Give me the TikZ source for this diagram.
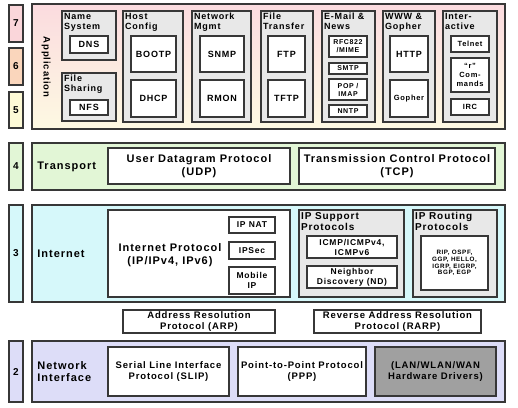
\documentclass[tikz,border=0pt]{standalone}
\usepackage{fontspec}
\setmainfont{Liberation Sans}[LetterSpace=9]
\usepackage{tikz}
\usetikzlibrary{positioning}
\definecolor{linec}{RGB}{55,55,55}
\definecolor{pinkseven}{RGB}{250,214,218}
\definecolor{peachsix}{RGB}{250,214,188}
\definecolor{yelfive}{RGB}{253,250,214}
\definecolor{apptop}{RGB}{251,219,223}
\definecolor{appbot}{RGB}{253,249,226}
\definecolor{trgreen}{RGB}{226,246,214}
\definecolor{incyan}{RGB}{214,248,250}
\definecolor{nilav}{RGB}{221,221,248}
\definecolor{grpgray}{RGB}{232,232,232}
\definecolor{drvgray}{RGB}{160,160,160}
\newcommand{\fsz}[2]{\fontsize{#1}{#2}\selectfont}
\tikzset{
  numbox/.style={draw=linec, line width=1.6pt, minimum width=14, inner sep=0pt, font=\fsz{10}{11}\bfseries},
  layer/.style={draw=linec, line width=1.6pt, inner sep=0pt},
  grp/.style={draw=linec, line width=1.2pt, fill=grpgray, inner sep=0pt},
  pbox/.style={draw=linec, line width=1.2pt, fill=white, align=center, inner sep=1pt, font=\fsz{9}{10}\bfseries},
  gttl/.style={anchor=north west, align=left, inner sep=2.5pt, font=\fsz{9}{10}\bfseries},
  llab/.style={align=left, inner sep=0pt, font=\fsz{11}{12.5}\bfseries},
  bigtxt/.style={font=\fsz{11}{12.5}\bfseries},
  midtxt/.style={font=\fsz{9.5}{10.5}\bfseries},
  smtxt/.style={font=\fsz{7}{8}\bfseries},
}
\begin{document}
\begin{tikzpicture}[x=1pt, y=-1pt]
\useasboundingbox (0,0) rectangle (518,407);
% layer numbers
\node[numbox, fill=pinkseven, minimum height=37] (n7) at (16,23.5) {7};
\node[numbox, fill=peachsix, minimum height=37] (n6) at (16,66.5) {6};
\node[numbox, fill=yelfive, minimum height=36] (n5) at (16,110) {5};
\node[numbox, fill=trgreen, minimum height=47] (n4) at (16,166.5) {4};
\node[numbox, fill=incyan, minimum height=97] (n3) at (16,253.5) {3};
\node[numbox, fill=nilav, minimum height=61] (n2) at (16,371.5) {2};
% application
\node[layer, top color=apptop, bottom color=appbot, minimum width=473, minimum height=125] (app) at (268.5,66.5) {};
\node[rotate=-90, font=\fsz{9.5}{11}\bfseries] (applab) at (46,67) {Application};
\node[grp, minimum width=54, minimum height=49] (gname) at (89,35.5) {};
\node[gttl] at (gname.north west) {Name\\System};
\node[pbox, minimum width=38, minimum height=17] (dns) at (89,44.5) {DNS};
\node[grp, minimum width=54, minimum height=48] (gshare) at (89,97) {};
\node[gttl] at (gshare.north west) {File\\Sharing};
\node[pbox, minimum width=38, minimum height=15] (nfs) at (89,107.5) {NFS};
\node[grp, minimum width=60, minimum height=111] (ghost) at (153,66.5) {};
\node[gttl] at (ghost.north west) {Host\\Config};
\node[pbox, minimum width=45, minimum height=36] (bootp) at (153.5,54) {BOOTP};
\node[pbox, minimum width=45, minimum height=37] (dhcp) at (153.5,98.5) {DHCP};
\node[grp, minimum width=59, minimum height=111] (gmgmt) at (221.5,66.5) {};
\node[gttl] at (gmgmt.north west) {Network\\Mgmt};
\node[pbox, minimum width=44, minimum height=36] (snmp) at (222,54) {SNMP};
\node[pbox, minimum width=44, minimum height=37] (rmon) at (222,98.5) {RMON};
\node[grp, minimum width=52, minimum height=111] (gxfer) at (287,66.5) {};
\node[gttl] at (gxfer.north west) {File\\Transfer};
\node[pbox, minimum width=37, minimum height=36] (ftp) at (286.5,54) {FTP};
\node[pbox, minimum width=37, minimum height=37] (tftp) at (286.5,98.5) {TFTP};
\node[grp, minimum width=53, minimum height=111] (gmail) at (348.5,66.5) {};
\node[gttl] at (gmail.north west) {E-Mail \&\\News};
\node[pbox, smtxt, minimum width=38, minimum height=21] (rfc) at (348,46.5) {RFC822\\/MIME};
\node[pbox, smtxt, minimum width=38, minimum height=11] (smtp) at (348,68.5) {SMTP};
\node[pbox, smtxt, minimum width=38, minimum height=21] (pop) at (348,89.5) {POP /\\IMAP};
\node[pbox, smtxt, minimum width=38, minimum height=12] (nntp) at (348,111) {NNTP};
\node[grp, minimum width=52, minimum height=111] (gwww) at (409,66.5) {};
\node[gttl] at (gwww.north west) {WWW \&\\Gopher};
\node[pbox, minimum width=38, minimum height=36] (http) at (409,54) {HTTP};
\node[pbox, font=\fsz{7.5}{8.5}\bfseries, minimum width=38, minimum height=37] (gopher) at (409,98.5) {Gopher};
\node[grp, minimum width=54, minimum height=111] (gint) at (470,66.5) {};
\node[gttl] at (gint.north west) {Inter-\\active};
\node[pbox, font=\fsz{7.5}{8.5}\bfseries, minimum width=38, minimum height=16] (telnet) at (470,44) {Telnet};
\node[pbox, font=\fsz{7.5}{9}\bfseries, minimum width=38, minimum height=34] (rcmd) at (470,75) {“r”\\Com-\\mands};
\node[pbox, font=\fsz{7.5}{8.5}\bfseries, minimum width=38, minimum height=16] (irc) at (470,107) {IRC};
% transport
\node[layer, fill=trgreen, minimum width=473, minimum height=47] (trans) at (268.5,166.5) {};
\node[llab, anchor=west, right=6pt of trans.west] (translab) {Transport};
\node[pbox, bigtxt, minimum width=182, minimum height=36] (udp) at (199,166) {User Datagram Protocol\\(UDP)};
\node[pbox, bigtxt, minimum width=196, minimum height=36] (tcp) at (397,166) {Transmission Control Protocol\\(TCP)};
% internet
\node[layer, fill=incyan, minimum width=473, minimum height=97] (inet) at (268.5,253.5) {};
\node[llab, anchor=west, right=6pt of inet.west] (inetlab) {Internet};
\node[pbox, minimum width=182, minimum height=87] (ipbox) at (199,253.5) {};
\node[bigtxt, align=center] (iplab) at (170,255) {Internet Protocol\\(IP/IPv4, IPv6)};
\node[pbox, font=\fsz{8.5}{9.5}\bfseries, minimum width=46, minimum height=16] (nat) at (252,225) {IP NAT};
\node[pbox, font=\fsz{8.5}{9.5}\bfseries, minimum width=46, minimum height=17] (ipsec) at (252,250.5) {IPSec};
\node[pbox, font=\fsz{8.5}{9.5}\bfseries, minimum width=46, minimum height=27] (mobip) at (252,280.5) {Mobile\\IP};
\node[grp, minimum width=105, minimum height=87] (gsup) at (351.5,253.5) {};
\node[gttl, font=\fsz{10}{11}\bfseries] at (gsup.north west) {IP Support\\Protocols};
\node[pbox, font=\fsz{8.5}{10}\bfseries, minimum width=90, minimum height=22] (icmp) at (352,247) {ICMP/ICMPv4,\\ICMPv6};
\node[pbox, font=\fsz{8.5}{10}\bfseries, minimum width=90, minimum height=22] (nd) at (352,277) {Neighbor\\Discovery (ND)};
\node[grp, minimum width=84, minimum height=87] (grout) at (455,253.5) {};
\node[gttl, font=\fsz{10}{11}\bfseries] at (grout.north west) {IP Routing\\Protocols};
\node[pbox, font=\fsz{6.3}{6.8}\bfseries, minimum width=67, minimum height=54] (rip) at (454.5,263) {RIP, OSPF,\\GGP, HELLO,\\IGRP, EIGRP,\\BGP, EGP};
% address resolution
\node[pbox, midtxt, minimum width=152, minimum height=23] (arp) at (199,321.5) {Address Resolution\\Protocol (ARP)};
\node[pbox, midtxt, minimum width=167, minimum height=23] (rarp) at (397.5,321.5) {Reverse Address Resolution\\Protocol (RARP)};
% network interface
\node[layer, fill=nilav, minimum width=473, minimum height=61] (netif) at (268.5,371.5) {};
\node[llab, anchor=west, right=6pt of netif.west] (netiflab) {Network\\Interface};
\node[pbox, midtxt, minimum width=121, minimum height=49] (slip) at (168.5,371.5) {Serial Line Interface\\Protocol (SLIP)};
\node[pbox, midtxt, minimum width=128, minimum height=49] (ppp) at (302,371.5) {Point-to-Point Protocol\\(PPP)};
\node[pbox, midtxt, fill=drvgray, minimum width=121, minimum height=49] (drv) at (435.5,371.5) {(LAN/WLAN/WAN\\Hardware Drivers)};
\end{tikzpicture}
\end{document}
